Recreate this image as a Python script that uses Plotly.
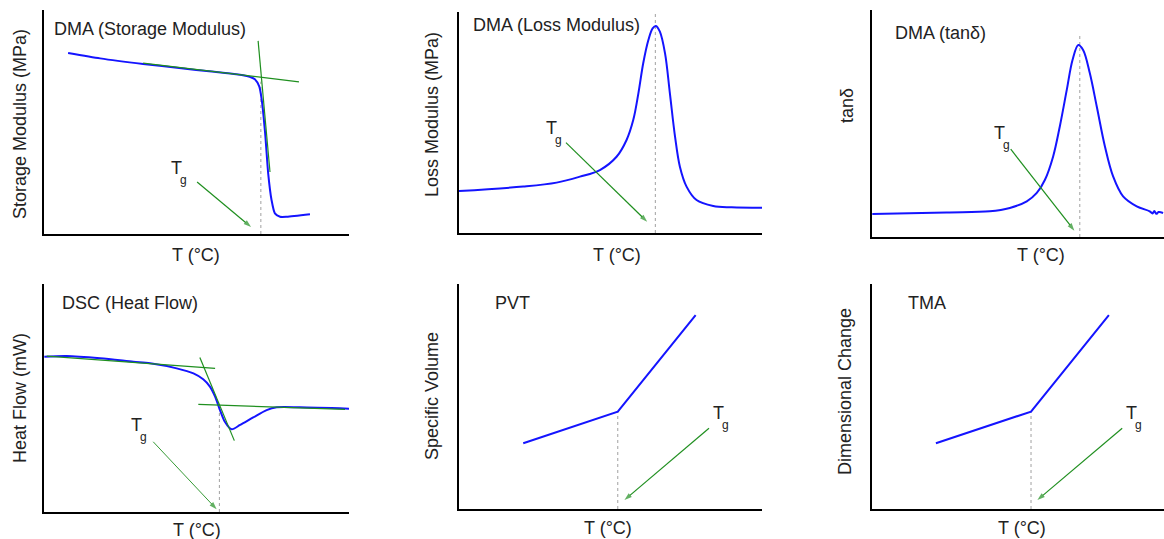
import plotly.graph_objects as go

# ---------------- data (normalised 0-100 units per panel) ----------------
# Panel 1: DMA storage modulus
sm_T = [7.9, 18.4, 32.5, 45.0, 55.0, 63.0, 66.5, 69.2, 70.6, 71.4, 72.5, 73.5, 74.6, 75.7, 77.4, 79.6, 87.2]
sm_E = [80.8, 78.4, 75.9, 74.0, 72.5, 71.3, 70.5, 69.0, 65.8, 59.8, 45.0, 27.1, 15.2, 9.2, 7.7, 7.7, 8.8]
sm_tan1_T = [32.5, 83.6]
sm_tan1_E = [76.3, 67.9]
sm_tan2_T = [70.2, 74.1]
sm_tan2_E = [86.2, 27.7]
sm_Tg = 71.1
sm_Tg_top = 68.0

# Panel 2: DMA loss modulus
lm_T = [0.0, 21.2, 32.2, 39.9, 46.5, 52.0, 55.3, 57.5, 59.2, 60.8, 62.5, 63.9, 65.0, 66.3, 68.0,
        69.6, 71.3, 72.9, 75.1, 78.4, 83.9, 90.0, 100.0]
lm_E = [19.0, 21.0, 22.8, 25.5, 28.5, 34.5, 42.1, 51.1, 63.2, 76.8, 87.3, 92.6, 93.7, 91.1, 81.3,
        63.2, 43.6, 30.0, 21.0, 14.9, 12.2, 11.6, 11.4]
lm_Tg = 64.8
lm_Tg_top = 100.0

# Panel 3: DMA tan delta
td_T = [0.1, 24.6, 38.9, 45.5, 51.1, 54.4, 57.1, 59.8, 62.0, 64.3, 66.2, 68.1, 69.7, 71.9, 74.2,
        76.9, 79.6, 82.9, 87.4, 91.7, 92.6, 93.2, 93.9, 94.6, 96.1]
td_D = [10.1, 10.8, 11.3, 12.8, 15.7, 19.4, 25.2, 35.5, 48.7, 64.8, 78.0, 84.6, 82.4, 72.2, 57.5,
        39.9, 26.7, 17.9, 13.5, 11.3, 10.4, 11.4, 10.2, 11.0, 10.6]
td_Tg = 68.6
td_Tg_top = 89.7

# Panel 4: DSC heat flow
hf_T = [0.1, 7.4, 18.4, 29.3, 34.8, 43.5, 49.0, 52.2, 54.4, 56.1, 57.7, 59.3, 61.5, 64.3, 68.6,
        73.0, 76.3, 83.9, 100.0]
hf_Q = [68.1, 68.4, 67.4, 65.9, 65.2, 63.0, 60.8, 58.2, 55.0, 50.6, 44.7, 39.6, 36.3, 38.2, 41.5,
        44.7, 45.9, 45.9, 45.3]
hf_tan1_T = [0.9, 56.1]
hf_tan1_Q = [68.4, 63.0]
hf_tan2_T = [51.1, 62.4]
hf_tan2_Q = [67.8, 31.3]
hf_tan3_T = [50.6, 98.7]
hf_tan3_Q = [47.2, 45.0]
hf_Tg = 57.5
hf_Tg_top = 47.0

# Panel 5: PVT
pvt_T = [21.2, 52.4, 78.1]
pvt_V = [29.2, 43.3, 86.2]
pvt_Tg = 52.4

# Panel 6: TMA
tma_T = [21.1, 52.5, 78.2]
tma_L = [29.2, 43.3, 86.2]
tma_Tg = 52.5

# Tg arrows: (tail_x, tail_y, head_x, head_y) and "T" label positions
arrows = {
    1: (50.2, 23.2, 67.9, 3.1),
    2: (35.3, 40.9, 62.1, 5.1),
    3: (45.8, 38.7, 66.8, 2.8),
    4: (35.8, 30.8, 56.6, 1.2),
    5: (82.5, 35.9, 54.6, 4.0),
    6: (82.6, 35.9, 54.6, 4.0),
}
tg_labels = {1: (43.5, 29.3), 2: (30.6, 47.4), 3: (42.2, 45.8), 4: (30.4, 38.2), 5: (85.7, 42.5), 6: (85.8, 42.5)}

titles = {1: ("DMA (Storage Modulus)", 2.6, 91.5), 2: ("DMA (Loss Modulus)", 4.0, 94.1),
          3: ("DMA (tanδ)", 7.0, 89.7), 4: ("DSC (Heat Flow)", 5.2, 91.5),
          5: ("PVT", 11.1, 91.4), 6: ("TMA", 11.2, 91.4)}
ytitles = {1: ("Storage Modulus (MPa)", 20, 124), 2: ("Loss Modulus (MPa)", 432, 115),
           3: ("tanδ", 847, 106), 4: ("Heat Flow (mW)", 20, 398),
           5: ("Specific Volume", 432, 396), 6: ("Dimensional Change", 845, 392)}
xtitles = {1: (196, 255), 2: (617, 255), 3: (1041, 255), 4: (197, 530), 5: (608, 528), 6: (1022, 528)}

# ---------------- layout geometry ----------------
W, H = 1164, 539
# pixel boxes: (left, right, top, bottom)
boxes = {1: (44, 349, 10, 234), 2: (459, 762, 12, 233), 3: (872, 1164, 10, 237),
         4: (44, 349, 284, 512), 5: (459, 762, 284, 509), 6: (872, 1164, 284, 509)}
xmax = {1: 100, 2: 100, 3: 96.4, 4: 100, 5: 100, 6: 96.4}

BLUE = "#1414ff"
GREEN = "#1f8f1f"
FONT = "Liberation Sans, Arial, sans-serif"
FS = 18

fig = go.Figure()

def ax(i):
    return ("x" if i == 1 else f"x{i}"), ("y" if i == 1 else f"y{i}")

def add_line(i, xs, ys, color, width, shape="linear", smoothing=0.6):
    xa, ya = ax(i)
    fig.add_trace(go.Scatter(x=xs, y=ys, mode="lines", xaxis=xa, yaxis=ya,
                             line=dict(color=color, width=width, shape=shape, smoothing=smoothing),
                             hoverinfo="skip", showlegend=False))

add_line(1, sm_T, sm_E, BLUE, 2, "spline", 0.6)
add_line(1, sm_tan1_T, sm_tan1_E, GREEN, 1.2)
add_line(1, sm_tan2_T, sm_tan2_E, GREEN, 1.2)
add_line(2, lm_T, lm_E, BLUE, 2, "spline", 1.0)
add_line(3, td_T, td_D, BLUE, 2, "spline", 1.0)
add_line(4, hf_T, hf_Q, BLUE, 2, "spline", 0.8)
add_line(4, hf_tan1_T, hf_tan1_Q, GREEN, 1.2)
add_line(4, hf_tan2_T, hf_tan2_Q, GREEN, 1.2)
add_line(4, hf_tan3_T, hf_tan3_Q, GREEN, 1.2)
add_line(5, pvt_T, pvt_V, BLUE, 2)
add_line(6, tma_T, tma_L, BLUE, 2)

# Tg arrows as line traces with an arrow marker at the head
for i, (tx, ty, hx, hy) in arrows.items():
    xa, ya = ax(i)
    fig.add_trace(go.Scatter(x=[tx, hx], y=[ty, hy], mode="lines+markers", xaxis=xa, yaxis=ya,
                             line=dict(color=GREEN, width=1.2 if i != 4 else 0.9),
                             marker=dict(symbol="arrow", size=[0, 8], angleref="previous",
                                         color=GREEN, line=dict(width=0)),
                             cliponaxis=False, hoverinfo="skip", showlegend=False))

# dotted Tg verticals
for i, (xv, ytop) in {1: (sm_Tg, sm_Tg_top), 2: (lm_Tg, lm_Tg_top), 3: (td_Tg, td_Tg_top),
                      4: (hf_Tg, hf_Tg_top), 5: (pvt_Tg, pvt_V[1]), 6: (tma_Tg, tma_L[1])}.items():
    xa, ya = ax(i)
    fig.add_shape(type="line", xref=xa, yref=ya, x0=xv, x1=xv, y0=0, y1=ytop,
                  line=dict(color="#a0a0a0", width=1, dash="dot"), layer="below")

annotations = []
for i in range(1, 7):
    xa, ya = ax(i)
    lx, ly = tg_labels[i]
    annotations.append(dict(x=lx, y=ly, xref=xa, yref=ya, text="T", showarrow=False,
                            font=dict(family=FONT, size=FS, color="#222")))
    annotations.append(dict(x=lx, y=ly, xref=xa, yref=ya, text="g", showarrow=False,
                            xshift=7, yshift=-12,
                            font=dict(family=FONT, size=12, color="#222")))
    t, tx_, ty_ = titles[i]
    annotations.append(dict(x=tx_, y=ty_, xref=xa, yref=ya, text=t, showarrow=False,
                            xanchor="left", yanchor="middle",
                            font=dict(family=FONT, size=FS, color="#222")))
    yt, px, py = ytitles[i]
    annotations.append(dict(x=px / W, y=1 - py / H, xref="paper", yref="paper", text=yt,
                            textangle=-90, showarrow=False, xanchor="center", yanchor="middle",
                            font=dict(family=FONT, size=FS, color="#222")))
    px, py = xtitles[i]
    annotations.append(dict(x=px / W, y=1 - py / H, xref="paper", yref="paper", text="T (°C)",
                            showarrow=False, xanchor="center", yanchor="middle",
                            font=dict(family=FONT, size=FS, color="#222")))

layout = dict(width=W, height=H, margin=dict(l=0, r=0, t=0, b=0),
              paper_bgcolor="white", plot_bgcolor="white", showlegend=False,
              annotations=annotations)
for i in range(1, 7):
    l, r, t, b = boxes[i]
    xk = "xaxis" if i == 1 else f"xaxis{i}"
    yk = "yaxis" if i == 1 else f"yaxis{i}"
    xa, ya = ax(i)
    common = dict(showgrid=False, zeroline=False, showticklabels=False, ticks="",
                  showline=True, linecolor="black", linewidth=2, fixedrange=True)
    layout[xk] = dict(domain=[l / W, r / W], range=[0, xmax[i]], anchor=ya, **common)
    layout[yk] = dict(domain=[1 - b / H, 1 - t / H], range=[0, 100], anchor=xa, **common)

fig.update_layout(**layout)
fig.write_html("out.html")
